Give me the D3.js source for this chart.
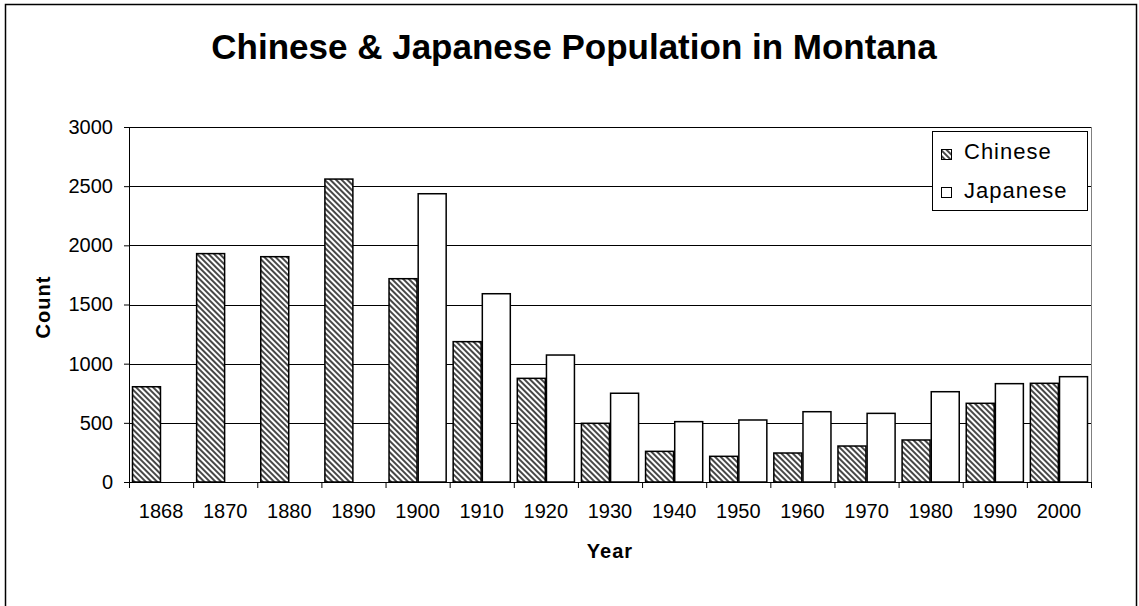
<!DOCTYPE html>
<html>
<head>
<meta charset="utf-8">
<script src="https://cdn.jsdelivr.net/npm/d3@7"></script>
<style>
  body { margin: 0; background: #fff; }
  text { font-family: "Liberation Sans", Arial, sans-serif; fill: #000; }
  .title { font-size: 35px; font-weight: bold; }
  .axisLabel { font-size: 20px; font-weight: bold; letter-spacing: 1px; }
  .tick text { font-size: 20px; }
  .legend_text { font-size: 22px; letter-spacing: 1px; }
</style>
</head>
<body>
<div id="chart"></div>
<script>
// data
var years = ["1868", "1870", "1880", "1890", "1900", "1910", "1920", "1930", "1940", "1950", "1960", "1970", "1980", "1990", "2000"];
var chinese = [805, 1930, 1904, 2560, 1718, 1186, 876, 496, 259, 217, 245, 304, 355, 665, 834];
var japanese = [0, 0, 0, 0, 2436, 1591, 1073, 750, 510, 524, 594, 580, 763, 831, 890];
var seriesNames = ["Chinese", "Japanese"];
var yTicks = [0, 500, 1000, 1500, 2000, 2500, 3000];

var W = 1139, H = 606;
var margin = {top: 127, right: 48, bottom: 124, left: 129};
var width = W - margin.left - margin.right;
var height = H - margin.top - margin.bottom;

var svg = d3.select("#chart").append("svg")
    .attr("width", W)
    .attr("height", H);

// hatch pattern
var defs = svg.append("defs");
var pat = defs.append("pattern")
    .attr("id", "hatch")
    .attr("patternUnits", "userSpaceOnUse")
    .attr("width", 4)
    .attr("height", 4)
    .attr("patternTransform", "rotate(-45)");
pat.append("rect").attr("width", 4).attr("height", 4).attr("fill", "#fff");
pat.append("line").attr("x1", 1).attr("y1", 0).attr("x2", 1).attr("y2", 4)
    .attr("stroke", "#333").attr("stroke-width", 1.8);

// outer frame
svg.append("rect")
    .attr("x", 5.5).attr("y", 4.5)
    .attr("width", 1131).attr("height", 610)
    .attr("fill", "none").attr("stroke", "#000").attr("stroke-width", 1.5);

var g = svg.append("g")
    .attr("transform", "translate(" + margin.left + "," + margin.top + ")");

// scales
var xScale = d3.scaleBand().domain(years).range([0, width]).paddingInner(0).paddingOuter(0);
var xInner = d3.scaleBand().domain(seriesNames).range([0, xScale.bandwidth()]).paddingInner(0.04).paddingOuter(0.12);
var yScale = d3.scaleLinear().domain([0, 3000]).range([height, 0]);

// gridlines
g.selectAll(".grid").data(yTicks.slice(1)).enter().append("line")
    .attr("x1", 0).attr("x2", width)
    .attr("y1", function(d) { return Math.round(yScale(d)) + 0.5; })
    .attr("y2", function(d) { return Math.round(yScale(d)) + 0.5; })
    .attr("stroke", "#000").attr("stroke-width", 1);

// right plot border
g.append("line")
    .attr("x1", width + 0.5).attr("x2", width + 0.5)
    .attr("y1", 0).attr("y2", height)
    .attr("stroke", "#808080").attr("stroke-width", 1);

// bars
var rows = years.map(function(y, i) { return {year: y, values: [chinese[i], japanese[i]]}; });
var groups = g.selectAll(".group").data(rows).enter().append("g")
    .attr("transform", function(d) { return "translate(" + xScale(d.year) + ",0)"; });

groups.selectAll("rect")
    .data(function(d) {
      return d.values.map(function(v, j) { return {name: seriesNames[j], value: v}; })
        .filter(function(e) { return e.value > 0; });
    })
    .enter().append("rect")
    .attr("x", function(d) { return xInner(d.name); })
    .attr("y", function(d) { return yScale(d.value); })
    .attr("width", xInner.bandwidth())
    .attr("height", function(d) { return height - yScale(d.value); })
    .attr("fill", function(d) { return d.name == "Chinese" ? "url(#hatch)" : "#fff"; })
    .attr("stroke", "#000")
    .attr("stroke-width", 1.5);

// y axis
g.append("g")
    .call(d3.axisLeft(yScale).tickValues(yTicks).tickFormat(d3.format("d"))
      .tickSizeInner(5).tickSizeOuter(0).tickPadding(11))
    .call(function(a) { a.select(".domain").attr("stroke", "#000"); });

// x axis
g.append("g")
    .attr("transform", "translate(0," + height + ")")
    .call(d3.axisBottom(xScale).tickSize(0).tickPadding(22))
    .call(function(a) { a.select(".domain").attr("stroke", "#000"); });

g.selectAll(".xsep").data(years.concat(["end"])).enter().append("line")
    .attr("x1", function(d, i) { return i * xScale.step() + 0.5; })
    .attr("x2", function(d, i) { return i * xScale.step() + 0.5; })
    .attr("y1", height).attr("y2", height + 6)
    .attr("stroke", "#000");

// title
svg.append("text")
    .attr("class", "title")
    .attr("x", 574).attr("y", 59)
    .style("text-anchor", "middle")
    .text("Chinese & Japanese Population in Montana");

// axis labels
svg.append("text")
    .attr("class", "axisLabel")
    .attr("x", margin.left + width / 2).attr("y", 558)
    .style("text-anchor", "middle")
    .text("Year");

svg.append("text")
    .attr("class", "axisLabel")
    .attr("transform", "translate(50,307) rotate(-90)")
    .style("text-anchor", "middle")
    .text("Count");

// legend
var lg = svg.append("g").attr("transform", "translate(932,131)");
lg.append("rect")
    .attr("x", 0.5).attr("y", 0.5).attr("width", 155).attr("height", 79)
    .attr("fill", "#fff").attr("stroke", "#000");

seriesNames.forEach(function(name, i) {
  lg.append("rect")
      .attr("x", 9.5).attr("y", 18.5 + i * 38)
      .attr("width", 10).attr("height", 10)
      .attr("fill", name == "Chinese" ? "url(#hatch)" : "#fff")
      .attr("stroke", "#000");
  lg.append("text")
      .attr("class", "legend_text")
      .attr("x", 32).attr("y", 28 + i * 39)
      .text(name);
});
</script>
</body>
</html>
